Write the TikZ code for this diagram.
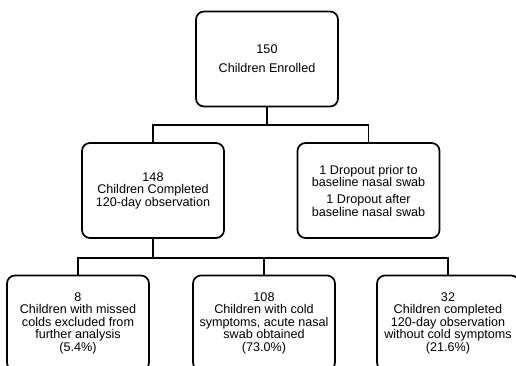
\documentclass[tikz,border=0pt]{standalone}
\usepackage{fontspec}
\setmainfont{Liberation Sans}
\tikzset{
  caja/.style={draw, rounded corners=8pt, line width=1.7pt, align=center,
    minimum width=142pt, minimum height=95pt, inner sep=2pt,
    font=\fontsize{12.6}{12.5}\selectfont},
  linea/.style={line width=1.7pt}
}
\begin{document}
\begin{tikzpicture}[x=1pt, y=-1pt]
  \useasboundingbox (0,0) rectangle (516,366);
  \clip (0,0) rectangle (516,366);

  % Cajas
  \node[caja, font=\fontsize{12.6}{19}\selectfont] (enrolled) at (267,59) {150\\Children Enrolled};
  \node[caja] (completed) at (153,190.5) {148\\Children Completed\\120-day observation};
  \node[caja] (dropout) at (368.5,190.5) {1 Dropout prior to\\baseline nasal swab\\[4.5pt]1 Dropout after\\baseline nasal swab};
  \node[caja] (missed) at (78,323) {8\\Children with missed\\colds excluded from\\further analysis\\(5.4\%)};
  \node[caja] (cold) at (264,323) {108\\Children with cold\\symptoms, acute nasal\\swab obtained\\(73.0\%)};
  \node[caja] (nocold) at (448,323) {32\\Children completed\\120-day observation\\without cold symptoms\\(21.6\%)};

  % Conectores
  \coordinate (j1) at (267,125);
  \coordinate (j2) at (153,258);
  \draw[linea] (enrolled.south) -- (j1);
  \draw[linea] (completed.north) |- (j1) -| (dropout.north);
  \draw[linea] (completed.south) -- (j2);
  \draw[linea] (missed.north) |- (j2) -| (nocold.north);
  \draw[linea] (cold.north) -- (cold.north |- j2);
\end{tikzpicture}
\end{document}
